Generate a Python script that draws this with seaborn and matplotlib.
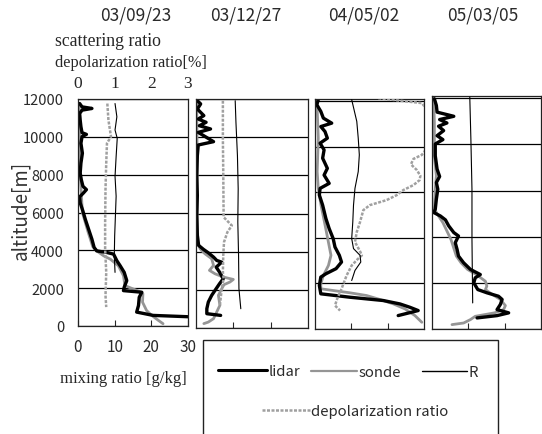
import numpy as np
import seaborn as sns
import matplotlib
matplotlib.use("Agg")
import matplotlib.pyplot as plt
from matplotlib.lines import Line2D
from matplotlib.patches import Rectangle

# panel titles (dates)
dates = ["03/09/23", "03/12/27", "04/05/02", "05/03/05"]

# ---- panel 1 : 03/09/23 ----
p1_lidar_alt = [11760, 11585, 11500, 11410, 11235, 10885, 10535, 10220, 10130, 10010, 9660, 9135, 8610, 8085, 7735, 7385, 7210, 7035, 6825, 6510, 6070, 5635, 5110, 4585, 4150, 3970, 3885, 3800, 3450, 3185, 2835, 2400, 2050, 1870, 1785, 1520, 1085, 735, 630, 560, 490]
p1_lidar_mr = [0.45, 1.1, 3.8, 1.1, 0.45, 0.6, 0.8, 1.1, 2.3, 1.1, 0.8, 1.2, 0.8, 0.6, 0.9, 1.35, 2.3, 1.5, 0.45, 0.6, 1.35, 2.0, 2.9, 3.8, 4.4, 5.1, 7.9, 9.7, 10.6, 11.5, 12.6, 13.3, 12.6, 12.4, 17.4, 16.7, 16.5, 16.0, 18.7, 20.5, 30.0]
p1_sonde_alt = [11700, 10000, 8000, 6000, 5000, 4200, 3900, 3710, 3535, 3185, 2660, 2135, 1820, 1700, 1260, 820, 560, 300, 120]
p1_sonde_mr = [0.3, 0.5, 0.6, 1.2, 2.7, 4.0, 5.6, 7.0, 8.8, 11.0, 12.4, 12.8, 16.8, 17.7, 17.6, 18.7, 20.1, 21.9, 23.2]
p1_r_alt = [11760, 11060, 10360, 9920, 8960, 7910, 6860, 5810, 4760, 3710, 2835]
p1_r_val = [1.01, 1.06, 1.01, 1.07, 1.04, 1.01, 1.04, 1.02, 1.00, 0.99, 1.01]
p1_dep_alt = [11760, 10885, 10010, 9660, 8610, 7210, 5460, 4060, 2835, 1610, 1000]
p1_dep_val = [0.80, 0.83, 0.90, 0.79, 0.77, 0.75, 0.74, 0.74, 0.77, 0.75, 0.77]

# ---- panel 2 : 03/12/27 ----
p2_lidar_alt = [11910, 11740, 11475, 11130, 10950, 10780, 10600, 10430, 10250, 9765, 9590, 9030, 7990, 6940, 5890, 4850, 4330, 4120, 3940, 3715, 3540, 3450, 3190, 2930, 2580, 2320, 2060, 1710, 1360, 1010, 750, 660]
p2_lidar_mr = [0.36, 1.25, 0.36, 2.1, 0.6, 2.7, 0.9, 3.9, 0.6, 4.7, 0.6, 0.36, 0.2, 0.36, 0.2, 0.36, 0.7, 2.0, 3.3, 4.7, 5.55, 6.9, 5.4, 6.3, 7.3, 6.3, 5.4, 4.2, 3.3, 2.9, 2.9, 6.6]
p2_sonde_alt = [11900, 9000, 6000, 4500, 4150, 3890, 3630, 3280, 3020, 2840, 2670, 2545, 2410, 2270, 2060, 1710, 1190, 840, 490, 310, 230]
p2_sonde_mr = [0.2, 0.3, 0.3, 0.5, 1.1, 2.4, 4.2, 4.7, 3.6, 5.1, 7.3, 10.0, 9.1, 7.5, 6.9, 6.0, 6.4, 5.55, 4.7, 3.3, 2.1]
p2_r_alt = [11910, 10780, 9030, 7290, 5550, 3800, 2060, 1010]
p2_r_val = [1.05, 1.07, 1.11, 1.13, 1.12, 1.14, 1.15, 1.20]
p2_dep_alt = [11910, 9910, 8160, 5810, 5550, 5370, 5020, 4500, 3800, 2930, 2580, 2060, 1190]
p2_dep_val = [0.72, 0.72, 0.73, 0.74, 0.87, 0.96, 0.84, 0.75, 0.73, 0.72, 0.74, 0.69, 0.64]

# ---- panel 3 : 04/05/02 ----
p3_lidar_alt = [10070, 9850, 9555, 9260, 9040, 8890, 8670, 8380, 8160, 7865, 7500, 7055, 6760, 6395, 6175, 5880, 5440, 4850, 4410, 3970, 3600, 3235, 2940, 2650, 2425, 2280, 1910, 1545, 1395, 1250, 1100, 955, 810, 690, 590]
p3_lidar_mr = [0.9, 0.5, 1.6, 2.3, 4.6, 1.6, 2.75, 3.4, 1.4, 2.5, 2.1, 3.4, 2.5, 3.9, 1.4, 1.2, 2.1, 3.0, 3.9, 5.0, 5.5, 6.7, 7.3, 5.8, 3.0, 1.6, 1.2, 1.6, 9.6, 18.8, 23.4, 26.1, 28.4, 25.4, 22.9]
p3_sonde_alt = [10070, 8380, 6910, 6175, 5440, 4700, 3970, 3235, 2790, 2350, 1985, 1765, 1690, 1590, 1470, 1295, 1100, 880, 590, 295]
p3_sonde_mr = [0.5, 0.9, 0.6, 0.9, 1.65, 2.6, 3.5, 4.4, 3.7, 2.3, 1.6, 1.6, 5.0, 9.6, 14.2, 17.9, 21.6, 24.8, 27.5, 29.4]
p3_r_alt = [10070, 9115, 8380, 7645, 6910, 6175, 5440, 4700, 3970, 3530, 3235, 2940, 2570, 2130]
p3_r_val = [1.01, 1.15, 1.19, 1.22, 1.19, 1.10, 1.06, 1.04, 1.01, 1.06, 1.24, 1.26, 1.10, 1.01]
p3_dep_alt = [10140, 10025, 9920, 8820, 7645, 7470, 7230, 6985, 6730, 6540, 6320, 6100, 5880, 5660, 5440, 5220, 4700, 4260, 3820, 3410, 3235, 3060, 2790, 2350, 1765, 1325, 1030, 810]
p3_dep_val = [1.74, 2.34, 2.94, 3.5, 2.94, 2.71, 2.64, 2.80, 2.90, 2.88, 2.71, 2.43, 2.25, 1.97, 1.51, 1.33, 1.24, 1.15, 1.10, 1.24, 1.29, 1.17, 1.01, 0.87, 0.73, 0.61, 0.55, 0.69]

# ---- panel 4 : 05/03/05 ----
p4_lidar_alt = [9980, 9690, 9400, 9220, 9080, 8930, 8790, 8600, 8380, 8210, 8020, 7510, 6930, 6610, 6350, 6060, 5630, 5190, 5050, 4900, 4730, 4470, 4180, 4030, 3740, 3450, 3160, 2870, 2580, 2360, 2220, 2000, 1710, 1570, 1420, 1280, 1060, 840, 700, 580, 480]
p4_lidar_mr = [0.65, 1.2, 1.4, 6.0, 2.1, 4.1, 1.8, 3.2, 1.4, 3.0, 0.9, 0.9, 1.4, 2.1, 1.2, 1.6, 1.2, 0.9, 0.46, 2.3, 3.7, 4.6, 6.0, 7.3, 6.4, 6.9, 7.3, 8.7, 10.6, 13.3, 11.9, 11.5, 12.6, 15.1, 18.3, 19.3, 18.8, 17.9, 21.1, 17.9, 12.4]
p4_sonde_alt = [9980, 8960, 7510, 6640, 6060, 5190, 4900, 4610, 3890, 3160, 2870, 2580, 2360, 2070, 1860, 1710, 1540, 1280, 1015, 840, 700, 550, 410, 260, 190]
p4_sonde_mr = [0.46, 0.65, 0.65, 1.2, 0.9, 0.65, 1.8, 3.0, 5.2, 6.7, 8.0, 9.8, 12.2, 14.7, 15.1, 14.7, 16.2, 18.8, 20.2, 19.7, 17.2, 11.9, 10.6, 8.7, 5.5]
p4_r_alt = [10050, 8240, 6060, 3890, 2440, 1130]
p4_r_val = [1.04, 1.07, 1.10, 1.10, 1.11, 1.12]

panels = [
    (p1_lidar_alt, p1_lidar_mr, p1_sonde_alt, p1_sonde_mr, p1_r_alt, p1_r_val, p1_dep_alt, p1_dep_val),
    (p2_lidar_alt, p2_lidar_mr, p2_sonde_alt, p2_sonde_mr, p2_r_alt, p2_r_val, p2_dep_alt, p2_dep_val),
    (p3_lidar_alt, p3_lidar_mr, p3_sonde_alt, p3_sonde_mr, p3_r_alt, p3_r_val, p3_dep_alt, p3_dep_val),
    (p4_lidar_alt, p4_lidar_mr, p4_sonde_alt, p4_sonde_mr, p4_r_alt, p4_r_val, [], []),
]
alt_top = [12000, 12000, 10100, 10100]

sns.set_style("white")
plt.rcParams['font.family'] = ['Noto Sans CJK JP', 'DejaVu Sans']
SERIF = ['Liberation Serif', 'DejaVu Serif']

W, H = 542, 435
fig = plt.figure(figsize=(5.42, 4.35), dpi=100)

# panel boxes in pixels: left, right, top, bottom
boxes = [(78, 188, 100, 327), (196, 308, 100, 329), (315, 424, 100, 330), (432, 541, 97, 330)]
date_x = [136, 246, 364, 483]
GRAY = "#959595"
DEP = "#a0a0a0"
TXT = "#2a2a2a"

for i, (box, data) in enumerate(zip(boxes, panels)):
    l, r, t, b = box
    ax = fig.add_axes([l / W, 1 - b / H, (r - l) / W, (b - t) / H])
    la, lm, sa, sm, ra, rv, da, dv = data
    sns.lineplot(x=sm, y=sa, sort=False, estimator=None, ax=ax, color=GRAY, lw=2.0)
    sns.lineplot(x=lm, y=la, sort=False, estimator=None, ax=ax, color="black", lw=2.4)
    ax.set_xlim(0, 30)
    ax.set_ylim(0, alt_top[i])
    ax.set_yticks(np.arange(0, alt_top[i] + 1, 2000))
    ax.grid(axis='y', color='black', lw=0.9)
    ax.set_axisbelow(True)
    ax.set_xticks([10, 20] if i else [0, 10, 20, 30])
    ax.tick_params(axis='x', direction='in', length=4, width=0.8, bottom=True, pad=9,
                   labelsize=11, labelcolor=TXT)
    ax.tick_params(axis='y', length=0, labelsize=10.5, pad=10, labelcolor=TXT)
    if i:
        ax.set_yticklabels([])
        ax.set_xticklabels([])
    for s in ax.spines.values():
        s.set_color("#222222")
        s.set_linewidth(0.9)
    ax.set_xlabel("")
    ax.set_ylabel("")

    axr = ax.twiny()
    if len(da):
        sns.lineplot(x=dv, y=da, sort=False, estimator=None, ax=axr, color=DEP, lw=1.8, linestyle=(0, (1.2, 0.6)))
    sns.lineplot(x=rv, y=ra, sort=False, estimator=None, ax=axr, color="black", lw=0.8)
    axr.set_xlim(0, 3)
    axr.set_ylim(0, alt_top[i])
    axr.set_xlabel("")
    axr.set_ylabel("")
    if i == 0:
        axr.set_xticks([0, 1, 2, 3])
        axr.tick_params(axis='x', length=0, pad=6, labelsize=12.5, labelfontfamily='Liberation Serif')
    else:
        axr.set_xticks([])
    for s in axr.spines.values():
        s.set_visible(False)

    fig.text(date_x[i] / W, 1 - 15 / H, dates[i], ha='center', va='center', fontsize=12.5, color=TXT)

fig.text(55 / W, 1 - 42 / H, "scattering ratio", ha='left', va='center', fontsize=12.8, family=SERIF)
fig.text(55 / W, 1 - 63 / H, "depolarization ratio[%]", ha='left', va='center', fontsize=11.7, family=SERIF)
fig.text(21 / W, 1 - 210 / H, "altitude[m]", ha='center', va='center', rotation=90, fontsize=13.5, color="#333333")
fig.text(60 / W, 1 - 379 / H, "mixing ratio [g/kg]", ha='left', va='center', fontsize=12, family=SERIF)

# legend box
fig.patches.append(Rectangle((203 / W, 1 - 445 / H), 295 / W, 104 / H, transform=fig.transFigure,
                             fill=False, edgecolor="#222222", lw=1))
handles = [Line2D([], [], color="black", lw=2.2),
           Line2D([], [], color=GRAY, lw=1.6),
           Line2D([], [], color="black", lw=1.0),
           Line2D([], [], color=DEP, lw=1.8, linestyle=(0, (1.2, 0.6)))]
labels = ["lidar", "sonde", "R", "depolarization ratio"]
leg_pos = [(218, 372, 3.3), (311, 373, 3.1), (422, 373, 3.0), (262, 412, 3.2)]
for h, lab, (lx, ly, hl) in zip(handles, labels, leg_pos):
    fig.legend([h], [lab], loc='center left', bbox_to_anchor=(lx / W, 1 - ly / H), frameon=False,
               borderpad=0, borderaxespad=0, handlelength=hl, handletextpad=0.1, fontsize=10.7,
               labelcolor=TXT)

fig.savefig("out.png", dpi=100)
